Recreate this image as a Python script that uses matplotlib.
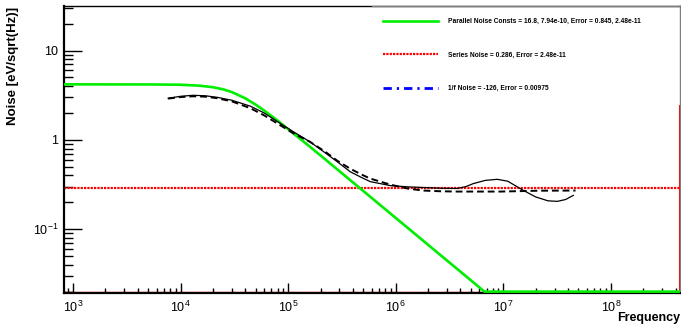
import matplotlib
matplotlib.use('Agg')
import matplotlib.pyplot as plt
from matplotlib.ticker import LogLocator, FixedLocator, FixedFormatter, NullFormatter

plt.rcParams['font.family'] = ['Liberation Sans', 'DejaVu Sans']
plt.rcParams['mathtext.fontset'] = 'custom'
plt.rcParams['mathtext.rm'] = 'Liberation Sans'
plt.rcParams['mathtext.default'] = 'regular'

# fit de ruido paralelo (verde)
freq_par = [824, 5000, 10000, 15000, 20000, 25000, 30000, 40000, 50000, 60000,
            80000, 100000, 150000, 200000, 468000, 6.69e6, 4.4e8]
noise_par = [4.19, 4.18, 4.15, 4.05, 3.89, 3.68, 3.43, 2.92, 2.48, 2.13,
             1.64, 1.32, 0.89, 0.67, 0.286, 0.02, 0.02]

# ruido serie (vermelho)
serie_val = 0.286
serie_borda = [0.02, 2.4]

# dados medidos (preto)
freq_med = [7660, 10000, 13060, 17000, 21900, 30000, 44400, 60000, 80700, 110000,
            160000, 220000, 286000, 378000, 480000, 580000, 889000, 1.3e6, 1.8e6,
            2.6e6, 3.73e6, 4.5e6, 5.26e6, 6.8e6, 8.79e6, 1.1e7, 1.53e7, 2.0e7,
            2.6e7, 3.18e7, 3.8e7, 4.48e7]
noise_med = [2.93, 3.08, 3.16, 3.12, 3.0, 2.78, 2.39, 2.0, 1.585, 1.25,
             0.95, 0.72, 0.57, 0.44, 0.38, 0.341, 0.308, 0.298, 0.293,
             0.288, 0.286, 0.30, 0.324, 0.352, 0.362, 0.345, 0.273, 0.23,
             0.208, 0.205, 0.215, 0.239]

# soma dos ruidos (preto tracejado)
freq_soma = [7660, 10000, 13060, 17000, 21900, 30000, 44400, 60000, 80700, 110000,
             160000, 220000, 286000, 378000, 480000, 580000, 889000, 1.3e6, 1.8e6,
             2.6e6, 3.73e6, 9.4e6, 2.2e7, 4.7e7]
noise_soma = [2.9, 3.02, 3.08, 3.05, 2.93, 2.7, 2.27, 1.88, 1.51, 1.2,
              0.95, 0.74, 0.585, 0.476, 0.41, 0.369, 0.316, 0.285, 0.271,
              0.266, 0.264, 0.264, 0.27, 0.271]

leg_par = 'Parallel Noise Consts = 16.8, 7.94e-10, Error = 0.845, 2.48e-11'
leg_serie = 'Series Noise = 0.286, Error = 2.48e-11'
leg_1f = '1/f Noise = -126, Error = 0.00975'

xmin, xmax = 824, 4.4e8
ymin, ymax = 0.0193, 31.6

fig = plt.figure(figsize=(6.81, 3.24), dpi=100)
ax = fig.add_axes([64/681, 1-293/324, 616/681, 287/324])

ax.plot([xmin, xmax], [0.02, 0.02], color='red', lw=1.0, zorder=1)
l_serie, = ax.plot([xmin, xmax], [serie_val, serie_val], color='red', lw=1.6,
                   linestyle=(0, (1, 0.5)), zorder=2)
ax.plot([xmax, xmax], serie_borda, color='red', lw=1.5, clip_on=False, zorder=2)
l_par, = ax.plot(freq_par, noise_par, color='#00ee00', lw=1.9, zorder=3)
ax.plot(freq_med, noise_med, color='black', lw=0.9, zorder=4)
ax.plot(freq_soma, noise_soma, color='black', lw=1.4, linestyle=(0, (3.5, 2)), zorder=4)
l_1f, = ax.plot([], [], color='blue', lw=2.0, linestyle=(0, (3, 1.8, 0.8, 1.8)))

ax.set_xscale('log')
ax.set_yscale('log')
ax.set_xlim(xmin, xmax)
ax.set_ylim(ymin, ymax)

ax.xaxis.set_major_locator(LogLocator(base=10, numticks=20))
ax.xaxis.set_minor_locator(LogLocator(base=10, subs=range(2, 10), numticks=20))
ax.xaxis.set_minor_formatter(NullFormatter())
ax.yaxis.set_major_locator(FixedLocator([0.1, 1, 10]))
ax.yaxis.set_major_formatter(FixedFormatter(['$10^{-1}$', '1', '10']))
ax.yaxis.set_minor_locator(LogLocator(base=10, subs=range(2, 10), numticks=20))
ax.yaxis.set_minor_formatter(NullFormatter())

ax.tick_params(axis='both', which='both', direction='in', top=False, right=False,
               width=1.0, labelsize=9)
ax.tick_params(axis='x', which='major', length=7, pad=5)
ax.tick_params(axis='x', which='minor', length=3.5)
ax.tick_params(axis='y', which='major', length=13, pad=4)
ax.tick_params(axis='y', which='minor', length=6.5)

ax.spines['left'].set_linewidth(1.6)
ax.spines['bottom'].set_linewidth(1.6)
ax.spines['top'].set_linewidth(1.0)
ax.spines['right'].set_linewidth(1.0)
ax.spines['right'].set_color('#808080')
ax.plot([0.5, 1.0], [1.0, 1.0], transform=ax.transAxes, color='#808080', lw=1.0,
        clip_on=False, zorder=5)

ax.legend([l_par, l_serie, l_1f], [leg_par, leg_serie, leg_1f],
          loc='upper left', bbox_to_anchor=(383/681, 1-18/324),
          bbox_transform=fig.transFigure, frameon=False,
          handlelength=8.2, handletextpad=1.5, labelspacing=4.0,
          borderpad=0, borderaxespad=0, prop={'weight': 'bold', 'size': 4.8})

fig.text(680/681, 1-318/324, 'Frequency', ha='right', va='center',
         fontsize=9, fontweight='bold')
fig.text(13/681, 1-7/324, 'Noise [eV/sqrt(Hz)]', rotation=90, ha='center', va='top',
         fontsize=9.5, fontweight='bold')

fig.savefig('out.png', dpi=100)
